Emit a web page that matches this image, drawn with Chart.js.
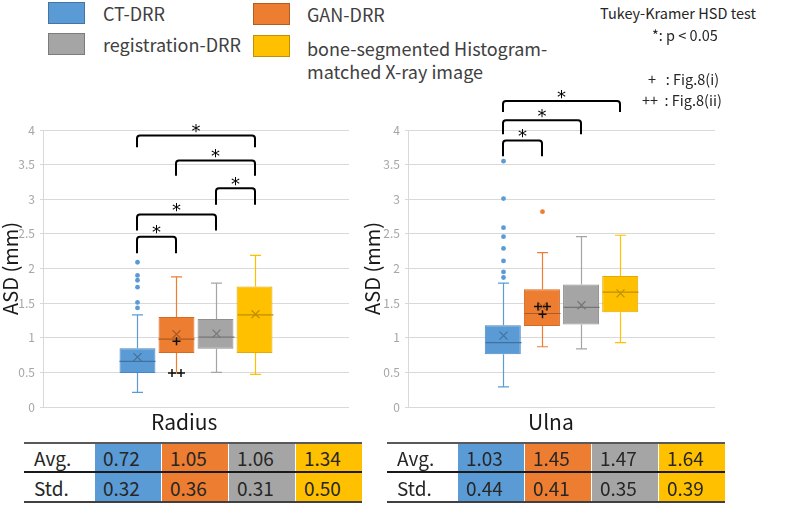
<!DOCTYPE html>
<html>
<head>
<meta charset="utf-8">
<script src="https://cdn.jsdelivr.net/npm/chart.js@4.4.0/dist/chart.umd.min.js"></script>
<style>
  body { margin: 0; background: #fff; font-family: "Noto Sans CJK JP", "Noto Sans", sans-serif; color: #262626; }
  #page { position: relative; width: 799px; height: 531px; overflow: hidden; }
  .abs { position: absolute; white-space: nowrap; line-height: 1; }
  .sw { position: absolute; width: 37px; height: 22px; box-sizing: border-box; border: 1px solid rgba(0,0,0,0.25); }
  .leg { font-size: 18px; color: #404040; }
  .note { font-size: 14.5px; color: #262626; z-index: 2; }
  canvas { position: absolute; }
  .tbl { position: absolute; top: 442px; width: 338px; border-top: 2px solid #595959; border-bottom: 2px solid #404040; font-size: 19px; color: #262626; }
  .row { display: flex; height: 28px; }
  .row.first { border-bottom: 2px solid #1a1a1a; height: 27px; }
  .lab { width: 70px; padding-left: 10px; box-sizing: border-box; display: flex; align-items: center; }
  .val { width: 67px; padding-left: 8px; box-sizing: border-box; border-left: 1.5px solid #fff; display: flex; align-items: center; }
  .ttl { font-size: 21px; color: #1a1a1a; }
</style>
</head>
<body>
<div id="page">
  <div class="sw" style="left:48px;top:2px;background:#5B9BD5"></div>
  <div class="abs leg" style="left:103px;top:4px">CT-DRR</div>
  <div class="sw" style="left:48px;top:33px;background:#A5A5A5"></div>
  <div class="abs leg" style="left:103px;top:35px">registration-DRR</div>
  <div class="sw" style="left:253px;top:3px;background:#ED7D31"></div>
  <div class="abs leg" style="left:307px;top:5px">GAN-DRR</div>
  <div class="sw" style="left:253px;top:35px;background:#FFC000"></div>
  <div class="abs leg" style="left:307px;top:37px;line-height:23px;white-space:normal;width:260px">bone-segmented Histogram-<br>matched X-ray image</div>

  <div class="abs note" style="left:600px;top:6px">Tukey-Kramer HSD test</div>
  <div class="abs note" style="left:652px;top:28px">*: p &lt; 0.05</div>
  <div class="abs note" style="left:648px;top:72px">+&nbsp;&nbsp;&nbsp;: Fig.8(i)</div>
  <div class="abs note" style="left:642px;top:93px">++&nbsp;&nbsp;: Fig.8(ii)</div>

  <canvas id="radius" width="380" height="380" style="left:0;top:60px"></canvas>
  <canvas id="ulna" width="380" height="380" style="left:362px;top:60px"></canvas>

  <div class="abs ttl" style="left:151px;top:411px">Radius</div>
  <div class="abs ttl" style="left:528px;top:411px">Ulna</div>
</div>
<script>
// ==========================================================================
// DATA
// ==========================================================================
const categories = ['CT-DRR', 'GAN-DRR', 'registration-DRR', 'bone-segmented Histogram-matched X-ray image'];
const fills = ['#5B9BD5', '#ED7D31', '#A5A5A5', '#FFC000'];
const edges = ['#4A86C5', '#D56A22', '#8E8E8E', '#E3AA00'];
const darks = ['#41719C', '#AE5A21', '#767676', '#BF9000'];
const yTicks = ['0', '0.5', '1', '1.5', '2', '2.5', '3', '3.5', '4'];

const radiusMin = [0.21, 0.49, 0.50, 0.47];
const radiusQ1 = [0.49, 0.78, 0.84, 0.78];
const radiusMedian = [0.66, 0.98, 1.01, 1.33];
const radiusQ3 = [0.85, 1.30, 1.27, 1.74];
const radiusMax = [1.33, 1.88, 1.79, 2.19];
const radiusMean = [0.72, 1.05, 1.06, 1.34];
const radiusOutliers = [[2.09, 1.90, 1.83, 1.73, 1.51, 1.43], [], [], []];

const ulnaMin = [0.29, 0.87, 0.84, 0.93];
const ulnaQ1 = [0.76, 1.17, 1.19, 1.37];
const ulnaMedian = [0.93, 1.35, 1.44, 1.66];
const ulnaQ3 = [1.18, 1.70, 1.77, 1.89];
const ulnaMax = [1.79, 2.23, 2.46, 2.48];
const ulnaMean = [1.03, 1.45, 1.47, 1.64];
const ulnaOutliers = [[3.55, 3.01, 2.59, 2.46, 2.29, 2.11, 1.95, 1.87], [2.82], [], []];

// significance brackets: [from, to, top value, leg end value]
const radiusPairs = [[0, 3, 3.92, 3.75], [1, 3, 3.56, 3.34], [2, 3, 3.16, 2.92], [0, 2, 2.78, 2.55], [0, 1, 2.46, 2.22]];
const ulnaPairs = [[0, 3, 4.42, 4.26], [0, 2, 4.14, 3.94], [0, 1, 3.85, 3.62]];

// Fig.8 cases (GAN-DRR): [single +, double ++]
const radiusFig = [0.95, 0.49];
const ulnaFig = [1.34, 1.45];

const radiusAvg = ['0.72', '1.05', '1.06', '1.34'];
const radiusStd = ['0.32', '0.36', '0.31', '0.50'];
const ulnaAvg = ['1.03', '1.45', '1.47', '1.64'];
const ulnaStd = ['0.44', '0.41', '0.35', '0.39'];

// ==========================================================================
// BOX PLOTS
// ==========================================================================
function plus(ctx, x, y) {
  ctx.beginPath();
  ctx.moveTo(x - 4, y); ctx.lineTo(x + 4, y);
  ctx.moveTo(x, y - 4); ctx.lineTo(x, y + 4);
  ctx.stroke();
}

function boxChart(id, axisWidth, padRight, st) {
  const boxPlugin = {
    id: 'boxPlot',
    afterDatasetsDraw(chart) {
      const ctx = chart.ctx;
      const y = chart.scales.y;
      const xs = [];
      ctx.save();
      chart.data.datasets.forEach((ds, i) => {
        const bar = chart.getDatasetMeta(i).data[0];
        const x = Math.round(bar.x) + 0.5;
        const hw = bar.width / 2;
        xs.push(x);
        // whiskers
        ctx.strokeStyle = fills[i];
        ctx.lineWidth = 1.2;
        ctx.beginPath();
        ctx.moveTo(x, y.getPixelForValue(st.q3[i])); ctx.lineTo(x, y.getPixelForValue(st.max[i]));
        ctx.moveTo(x, y.getPixelForValue(st.q1[i])); ctx.lineTo(x, y.getPixelForValue(st.min[i]));
        ctx.moveTo(x - 5.5, y.getPixelForValue(st.max[i])); ctx.lineTo(x + 5.5, y.getPixelForValue(st.max[i]));
        ctx.moveTo(x - 5.5, y.getPixelForValue(st.min[i])); ctx.lineTo(x + 5.5, y.getPixelForValue(st.min[i]));
        ctx.stroke();
        // median
        ctx.strokeStyle = darks[i];
        ctx.beginPath();
        const ym = y.getPixelForValue(st.median[i]);
        ctx.moveTo(x - hw, ym); ctx.lineTo(x + hw, ym);
        ctx.stroke();
        // mean
        const ya = y.getPixelForValue(st.mean[i]);
        ctx.beginPath();
        ctx.moveTo(x - 4, ya - 4); ctx.lineTo(x + 4, ya + 4);
        ctx.moveTo(x - 4, ya + 4); ctx.lineTo(x + 4, ya - 4);
        ctx.stroke();
        // outliers
        ctx.fillStyle = fills[i];
        st.outliers[i].forEach(v => {
          ctx.beginPath();
          ctx.arc(x, y.getPixelForValue(v), 2.4, 0, Math.PI * 2);
          ctx.fill();
        });
      });
      // Fig.8 marks on GAN-DRR
      ctx.strokeStyle = '#111';
      ctx.lineWidth = 1.5;
      plus(ctx, xs[1], y.getPixelForValue(st.fig[0]));
      plus(ctx, xs[1] - 4.5, y.getPixelForValue(st.fig[1]));
      plus(ctx, xs[1] + 4.5, y.getPixelForValue(st.fig[1]));
      // brackets
      ctx.strokeStyle = '#000';
      ctx.fillStyle = '#000';
      ctx.lineWidth = 2;
      ctx.font = '18px "DejaVu Sans"';
      ctx.textAlign = 'center';
      ctx.textBaseline = 'middle';
      st.pairs.forEach(([a, b, top, leg]) => {
        const x1 = xs[a] - 0.5, x2 = xs[b] - 0.5;
        const yt = y.getPixelForValue(top), yl = y.getPixelForValue(leg);
        ctx.beginPath();
        ctx.moveTo(x1, yl);
        ctx.arcTo(x1, yt, x2, yt, 3);
        ctx.arcTo(x2, yt, x2, yl, 3);
        ctx.lineTo(x2, yl);
        ctx.stroke();
        ctx.fillText('*', (x1 + x2) / 2, yt - 3);
      });
      ctx.restore();
    }
  };

  return new Chart(document.getElementById(id), {
    type: 'bar',
    data: {
      labels: [''],
      datasets: categories.map((name, i) => ({
        label: name,
        data: [[st.q1[i], st.q3[i]]],
        backgroundColor: fills[i],
        borderColor: edges[i],
        borderWidth: 1,
        borderSkipped: false,
        barPercentage: 0.92,
        categoryPercentage: 0.51
      }))
    },
    options: {
      responsive: false,
      animation: false,
      layout: { padding: { top: 70, right: padRight, bottom: 33, left: 0 } },
      plugins: {
        legend: { display: false },
        tooltip: { enabled: false }
      },
      scales: {
        x: { display: false },
        y: {
          min: 0,
          max: 4,
          afterFit(scale) { scale.width = axisWidth; },
          ticks: {
            stepSize: 0.5,
            color: '#A6A6A6',
            padding: 5,
            font: { size: 12, family: '"Noto Sans CJK JP"' },
            callback: (v, i) => yTicks[i]
          },
          grid: { color: '#D9D9D9', tickLength: 3 },
          border: { color: '#D9D9D9' },
          title: {
            display: true,
            text: 'ASD (mm)',
            color: '#1a1a1a',
            padding: 0,
            font: { size: 20, lineHeight: 1, family: '"Noto Sans CJK JP"' }
          }
        }
      }
    },
    plugins: [boxPlugin]
  });
}

boxChart('radius', 43, 31, {
  min: radiusMin, q1: radiusQ1, median: radiusMedian, q3: radiusQ3, max: radiusMax,
  mean: radiusMean, outliers: radiusOutliers, pairs: radiusPairs, fig: radiusFig
});
boxChart('ulna', 46, 27, {
  min: ulnaMin, q1: ulnaQ1, median: ulnaMedian, q3: ulnaQ3, max: ulnaMax,
  mean: ulnaMean, outliers: ulnaOutliers, pairs: ulnaPairs, fig: ulnaFig
});

// ==========================================================================
// TABLES
// ==========================================================================
function table(left, avg, std) {
  const t = document.createElement('div');
  t.className = 'tbl';
  t.style.left = left + 'px';
  [['Avg.', avg], ['Std.', std]].forEach(([lab, vals], r) => {
    const row = document.createElement('div');
    row.className = 'row' + (r === 0 ? ' first' : '');
    row.innerHTML = `<div class="lab">${lab}</div>` +
      vals.map((v, i) => `<div class="val" style="background:${fills[i]}">${v}</div>`).join('');
    t.appendChild(row);
  });
  document.getElementById('page').appendChild(t);
}
table(24, radiusAvg, radiusStd);
table(387, ulnaAvg, ulnaStd);
</script>
</body>
</html>
